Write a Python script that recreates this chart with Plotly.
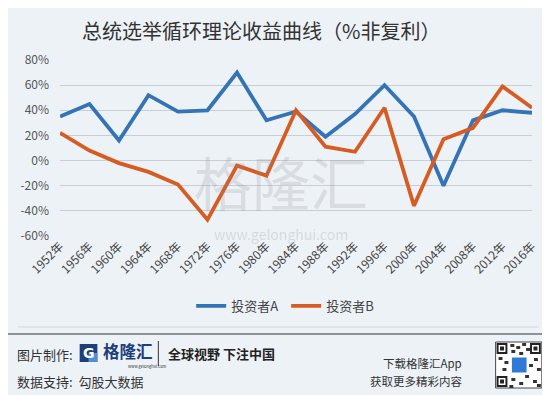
import plotly.graph_objects as go

years = ["1952年", "1956年", "1960年", "1964年", "1968年", "1972年", "1976年", "1980年",
         "1984年", "1988年", "1992年", "1996年", "2000年", "2004年", "2008年", "2012年", "2016年"]
investor_a = [35, 45, 16, 52, 39, 40, 70, 32, 39, 19, 37, 60, 35, -20, 32, 40, 38]
investor_b = [22, 8, -2, -9, -19, -47, -4, -12, 40, 11, 7, 42, -36, 17, 26, 59, 42]
y_ticks = [-60, -40, -20, 0, 20, 40, 60, 80]

FONT = "Noto Sans CJK SC, Noto Sans, sans-serif"
BG = "#edf2f7"

# page body has a default 8px margin; design in window coordinates and shift
OFF = 8
W, H = 550 - OFF, 395 - OFF
# plot area in window coords: x 53..533, y 60..236
PL, PR, PT, PB = 53, 533, 60, 236
L, T = PL - OFF, PT - OFF
R = W - (PR - OFF)
B = H - (PB - OFF)
PW, PH = PR - PL, PB - PT


def px(x):
    return (x - PL) / PW


def py(y):
    return (PB - y) / PH


fig = go.Figure()
fig.add_trace(go.Scatter(x=years, y=investor_a, name="投资者A", mode="lines",
                         line=dict(color="#3473b5", width=3.8)))
fig.add_trace(go.Scatter(x=years, y=investor_b, name="投资者B", mode="lines",
                         line=dict(color="#d65c22", width=3.8)))


def rect(x0, y0, x1, y1, fill, line=None):
    return dict(type="rect", xref="paper", yref="paper", x0=px(x0), x1=px(x1),
                y0=py(y0), y1=py(y1), fillcolor=fill, line=line or dict(width=0), layer="above")


shapes = [
    dict(type="line", xref="paper", yref="paper", x0=px(10), x1=px(540), y0=py(327), y1=py(327),
         line=dict(color="#cfd5dc", width=1)),
    dict(type="line", xref="paper", yref="paper", x0=px(0), x1=px(550), y0=py(334), y1=py(334),
         line=dict(color="#333333", width=1)),
    dict(type="line", xref="paper", yref="paper", x0=px(153), x1=px(153), y0=py(341), y1=py(366),
         line=dict(color="#333333", width=1)),
    rect(73, 344, 91, 362, "#1d3f7a"),
    rect(82, 353, 91, 362, "#4f8fd8"),
    rect(496, 342, 543, 388, "#ffffff", dict(color="#444", width=1)),
]
for (x0, y0) in [(497, 343), (531, 343), (497, 376)]:
    shapes.append(rect(x0, y0, x0 + 11, y0 + 11, "#222"))
    shapes.append(rect(x0 + 2, y0 + 2, x0 + 9, y0 + 9, "#fff"))
    shapes.append(rect(x0 + 3.5, y0 + 3.5, x0 + 7.5, y0 + 7.5, "#222"))
mods = [(511, 344), (517, 346), (523, 343), (512, 350), (520, 352), (499, 357), (505, 361),
        (535, 358), (530, 364), (538, 368), (512, 378), (520, 382), (526, 375), (534, 380),
        (510, 385), (538, 384), (503, 368), (527, 348)]
for (x0, y0) in mods:
    shapes.append(rect(x0, y0, x0 + 4, y0 + 3, "#333"))
shapes.append(rect(512, 357, 528, 373, "#2f7ad6", dict(color="#fff", width=1)))


def ann(text, x, y, size, color="#333333", xanchor="left", family=FONT):
    return dict(text=text, x=px(x), y=py(y), xref="paper", yref="paper", showarrow=False,
                font=dict(size=size, color=color, family=family), xanchor=xanchor, yanchor="middle")


annotations = [
    ann("总统选举循环理论收益曲线（%非复利）", 257, 30, 20, xanchor="center"),
    ann("格隆汇", 278, 181, 58, "rgba(140,140,140,0.20)", "center"),
    ann("www.gelonghui.com", 278, 234, 14, "rgba(140,140,140,0.25)", "center"),
    ann("图片制作:", 7, 354, 13),
    ann("<b>G</b>", 82, 353, 14, "#ffffff", "center", "DejaVu Sans"),
    ann("<b>格隆汇</b>", 95, 351, 16.5, "#1d3f7a"),
    ann("www.gelonghui.com", 120, 366, 4),
    ann("<b>全球视野 下注中国</b>", 161, 353, 13, "#222222"),
    ann("数据支持:  勾股大数据", 7, 381, 13),
    ann("下载格隆汇App", 464, 363, 11.5, xanchor="right"),
    ann("获取更多精彩内容", 464, 381, 11.5, xanchor="right"),
]

fig.update_layout(
    width=W, height=H,
    margin=dict(l=L, r=R, t=T, b=B, pad=0),
    paper_bgcolor=BG, plot_bgcolor=BG,
    font=dict(family=FONT, color="#444444"),
    showlegend=True,
    legend=dict(orientation="h", x=px(283), y=py(306), xanchor="center", yanchor="middle",
                font=dict(size=13, color="#444444"), bgcolor="rgba(0,0,0,0)",
                entrywidth=50, entrywidthmode="pixels"),
    xaxis=dict(type="category", categoryorder="array", categoryarray=years,
               tickangle=-45, tickfont=dict(size=12, color="#444444"),
               showgrid=False, showline=False, zeroline=False, ticks=""),
    yaxis=dict(range=[-60, 80], tickvals=y_ticks, ticktext=[f"{v}%" for v in y_ticks],
               tickfont=dict(size=12, color="#555555"), showgrid=True, gridcolor="#c9ced5",
               gridwidth=1, zeroline=False, showline=False, ticks="", ticklabelstandoff=10),
    shapes=shapes, annotations=annotations,
)

fig.write_html("out.html")
